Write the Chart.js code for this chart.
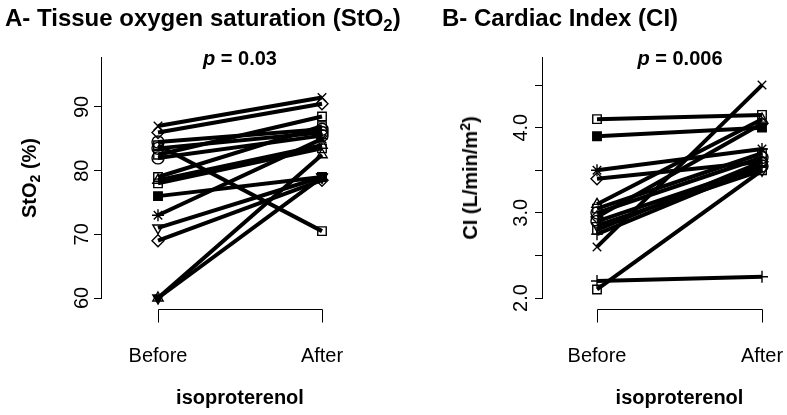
<!DOCTYPE html>
<html>
<head>
<meta charset="utf-8">
<script src="https://cdn.jsdelivr.net/npm/chart.js@4"></script>
<style>
  html, body { margin: 0; padding: 0; background: #fff; overflow: hidden; }
  #wrap { position: relative; width: 787px; height: 415px; overflow: hidden;
          font-family: "Liberation Sans", Arial, sans-serif; color: #000; }
  canvas { position: absolute; top: 0; }
  .main { position: absolute; top: 4px; font-weight: bold; font-size: 24px; line-height: 28px; white-space: nowrap; }
  .pval { position: absolute; top: 46px; width: 200px; text-align: center; font-weight: bold; font-size: 20px; line-height: 24px; }
  .ylab { position: absolute; font-weight: bold; font-size: 20px; line-height: 24px; white-space: nowrap;
          transform: translate(-50%, -50%) rotate(-90deg); }
  sub { font-size: 0.7em; vertical-align: -0.3em; line-height: 0; }
  sup { font-size: 0.7em; vertical-align: 0.5em; line-height: 0; }
</style>
</head>
<body>
<div id="wrap">
  <canvas id="chartA" width="440" height="415" style="left:0"></canvas>
  <canvas id="chartB" width="400" height="415" style="left:440px"></canvas>
  <div class="main" style="left:5px">A- Tissue oxygen saturation (StO<sub>2</sub>)</div>
  <div class="main" style="left:442px">B- Cardiac Index (CI)</div>
  <div class="pval" style="left:140px"><i>p</i> = 0.03</div>
  <div class="pval" style="left:580px"><i>p</i> = 0.006</div>
  <div class="ylab" style="left:29px; top:178px">StO<sub>2</sub> (%)</div>
  <div class="ylab" style="left:470px; top:178px">CI (L/min/m<sup>2</sup>)</div>
</div>
<script>
var groups = ['Before', 'After'];

// A - StO2 (%)
var stoBefore = [87, 86, 84.5, 84, 83.5, 82.5, 82, 79, 78.5, 78, 76, 73, 71, 69, 60, 60];
var stoAfter  = [91.5, 90.5, 86.5, 70.5, 86, 88.5, 85.5, 87, 84, 83.5, 79, 85, 79, 78.5, 82.5, 79];
var stoTicks = [60, 70, 80, 90];
var stoTickLabels = ['60', '70', '80', '90'];

// B - CI (L/min/m2)
var ciBefore = [4.1, 3.9, 3.5, 3.4, 3.1, 3.05, 3.0, 2.95, 2.9, 2.85, 2.8, 2.75, 2.6, 2.2, 2.1];
var ciAfter  = [4.15, 4.0, 3.75, 3.6, 4.1, 3.7, 3.65, 4.05, 3.55, 3.5, 3.6, 3.55, 4.5, 2.25, 3.5];
var ciTicks = [2.0, 2.5, 3.0, 3.5, 4.0, 4.5];
var ciTickLabels = ['2.0', '', '3.0', '', '4.0', ''];

// marker look per subject
var stoShapes = ['crossRot', 'rectRot', 'circle', 'rect', 'circle', 'rect', 'circle', 'rect',
                 'triangle', 'rect', 'rect', 'star', 'triangle', 'rectRot', 'triangle', 'triangle'];
var stoRot    = [0, 0, 0, 0, 0, 0, 0, 0, 0, 0, 0, 0, 180, 0, 0, 180];
var stoFill   = [0, 0, 0, 0, 0, 0, 0, 0, 0, 0, 1, 0, 0, 0, 0, 1];
var ciShapes  = ['rect', 'rect', 'star', 'rectRot', 'triangle', 'rect', 'circle', 'rectRot',
                 'circle', 'triangle', 'rect', 'cross', 'crossRot', 'cross', 'rect'];
var ciRot     = [0, 0, 0, 0, 0, 0, 0, 0, 0, 180, 0, 0, 0, 0, 0];
var ciFill    = [0, 1, 0, 0, 0, 0, 0, 0, 0, 0, 0, 0, 0, 0, 0];

Chart.defaults.font.family = '"Liberation Sans", Arial, sans-serif';
Chart.defaults.color = '#000';

// R style x axis: a bracket from Before to After, set below the plot
var bracketPlugin = {
  id: 'bracket',
  afterDraw: function(chart) {
    var ctx = chart.ctx;
    var xs = chart.scales.x;
    var y0 = Math.round(chart.chartArea.bottom + 11) + 0.5;
    var a = Math.round(xs.getPixelForValue(0)) + 0.5;
    var b = Math.round(xs.getPixelForValue(1)) + 0.5;
    ctx.save();
    ctx.strokeStyle = '#000';
    ctx.lineWidth = 1;
    ctx.beginPath();
    ctx.moveTo(a, y0 + 13);
    ctx.lineTo(a, y0);
    ctx.lineTo(b, y0);
    ctx.lineTo(b, y0 + 13);
    ctx.stroke();
    ctx.restore();
  }
};

function makeChart(id, before, after, shapes, rots, fills, yTicks, yLabels, yMin, yMax, xMin, xMax, pad) {
  var datasets = before.map(function(v, i) {
    return {
      data: [{ x: 0, y: v }, { x: 1, y: after[i] }],
      borderColor: '#000',
      borderWidth: 4,
      pointStyle: shapes[i],
      pointRotation: rots[i],
      pointRadius: 6,
      pointBorderWidth: 1.4,
      pointBorderColor: '#000',
      pointBackgroundColor: fills[i] ? '#000' : 'rgba(0,0,0,0)',
      clip: false
    };
  });

  return new Chart(document.getElementById(id), {
    type: 'line',
    data: { datasets: datasets },
    options: {
      responsive: false,
      animation: false,
      layout: { padding: pad },
      plugins: { legend: { display: false }, tooltip: { enabled: false } },
      scales: {
        x: {
          type: 'linear',
          min: xMin,
          max: xMax,
          afterBuildTicks: function(scale) {
            scale.ticks = groups.map(function(g, i) { return { value: i }; });
          },
          afterFit: function(scale) { scale.height = 117; },
          ticks: {
            autoSkip: false,
            padding: 38,
            font: { size: 20 },
            callback: function(value) { return groups[value]; }
          },
          grid: { display: false },
          border: { display: false },
          title: {
            display: true,
            text: 'isoproterenol',
            font: { size: 20, weight: 'bold' },
            padding: { top: 0, bottom: 5 }
          }
        },
        y: {
          type: 'linear',
          min: yMin,
          max: yMax,
          afterBuildTicks: function(scale) {
            scale.ticks = yTicks.map(function(v) { return { value: v }; });
          },
          afterFit: function(scale) { scale.width = 60; },
          ticks: {
            autoSkip: false,
            minRotation: 90,
            maxRotation: 90,
            crossAlign: 'center',
            padding: 0,
            font: { size: 20 },
            callback: function(value, index) { return yLabels[index]; }
          },
          grid: { drawOnChartArea: false, drawTicks: true, tickLength: 7, color: '#000' },
          border: { display: true, color: '#000', width: 1 }
        }
      }
    },
    plugins: [bracketPlugin]
  });
}

makeChart('chartA', stoBefore, stoAfter, stoShapes, stoRot, stoFill, stoTicks, stoTickLabels,
          60, 97.85, -57 / 164, 1 + 57 / 164, { left: 41, right: 61, top: 57, bottom: 0 });
makeChart('chartB', ciBefore, ciAfter, ciShapes, ciRot, ciFill, ciTicks, ciTickLabels,
          2.0, 4.83, -55 / 165, 1 + 55 / 165, { left: 42, right: 23, top: 57, bottom: 0 });
</script>
</body>
</html>
